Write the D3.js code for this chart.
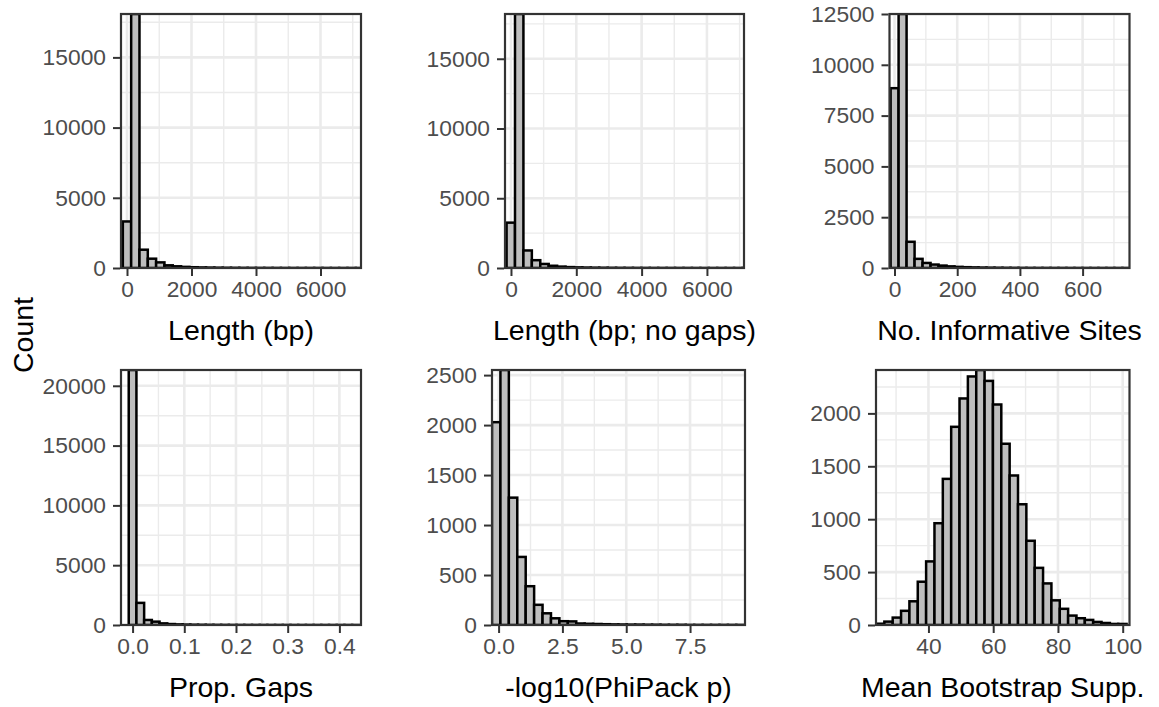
<!DOCTYPE html>
<html>
<head>
<meta charset="utf-8">
<style>
  body { margin: 0; background: #fff; }
  svg { display: block; font-family: "Liberation Sans", Arial, sans-serif; }
  .tick text { fill: #4d4d4d; font-size: 22.8px; font-family: "Liberation Sans", Arial, sans-serif; }
  .tick line { stroke: #333; stroke-width: 2; }
  .ttl { font-size: 28.5px; fill: #000; }
  .grid-major { stroke: #ebebeb; stroke-width: 2.6; }
  .grid-minor { stroke: #ebebeb; stroke-width: 1.4; }
  .bar { fill: #bebebe; stroke: #000; stroke-width: 2.5; }
  .frame { fill: none; stroke: #333; stroke-width: 2.2; }
</style>
</head>
<body>
<svg id="chart" width="1159" height="707"></svg>
<script src="https://cdn.jsdelivr.net/npm/d3@7/dist/d3.min.js"></script>
<script>
// axis titles, one per histogram
var titles = ["Length (bp)", "Length (bp; no gaps)", "No. Informative Sites",
              "Prop. Gaps", "-log10(PhiPack p)", "Mean Bootstrap Supp."];
var yTitle = "Count";

// bin counts (30 bins each)
var lengthCounts   = [3315, 18090, 1303, 663, 400, 190, 120, 80, 55, 40, 30, 22, 17, 13, 10, 8, 6, 5, 4, 3, 3, 2, 2, 2, 1, 1, 1, 1, 1, 1];
var lengthNgCounts = [3251, 18208, 1257, 560, 290, 160, 100, 65, 45, 32, 24, 18, 14, 10, 8, 6, 5, 4, 3, 3, 2, 2, 1, 1, 1, 1, 1, 1, 1, 1];
var infoCounts     = [8849, 12500, 1290, 450, 248, 169, 119, 80, 55, 40, 30, 22, 16, 12, 9, 7, 5, 4, 3, 3, 2, 2, 1, 1, 1, 1, 1, 1, 1, 1];
var gapCounts      = [21320, 1850, 420, 280, 135, 80, 50, 35, 25, 18, 14, 10, 8, 6, 5, 4, 3, 3, 2, 2, 2, 1, 1, 1, 1, 1, 1, 1, 1, 1];
var phiCounts      = [2029, 2551, 1274, 681, 388, 202, 117, 67, 38, 36, 15, 12, 10, 8, 6, 5, 4, 4, 3, 3, 2, 2, 2, 1, 1, 1, 1, 1, 1, 1];
var bootCounts     = [12, 32, 70, 134, 224, 409, 601, 962, 1381, 1873, 2141, 2349, 2410, 2307, 2084, 1713, 1413, 1141, 796, 540, 393, 233, 153, 89, 64, 48, 29, 19, 10, 10];

// left edge and width of the first bin, in data units
var binStarts = [-129, -135, -12.5, -0.00745, -0.258, 23.8];
var binWidths = [258, 258, 25.5, 0.0149, 0.33, 2.58];

// visible x range of each panel
var xLimits = [[-186, 7256], [-183, 7135], [-16, 749.6], [-0.0224, 0.4418], [-0.258, 9.652], [23.8, 102.1]];

// tick values and labels
var xTicks = [[0, 2000, 4000, 6000], [0, 2000, 4000, 6000], [0, 200, 400, 600],
              [0, 0.1, 0.2, 0.3, 0.4], [0, 2.5, 5, 7.5], [40, 60, 80, 100]];
var xLabels = [["0", "2000", "4000", "6000"], ["0", "2000", "4000", "6000"], ["0", "200", "400", "600"],
               ["0.0", "0.1", "0.2", "0.3", "0.4"], ["0.0", "2.5", "5.0", "7.5"], ["40", "60", "80", "100"]];
var yTicks = [[0, 5000, 10000, 15000], [0, 5000, 10000, 15000], [0, 2500, 5000, 7500, 10000, 12500],
              [0, 5000, 10000, 15000, 20000], [0, 500, 1000, 1500, 2000, 2500], [0, 500, 1000, 1500, 2000]];

var allCounts = [lengthCounts, lengthNgCounts, infoCounts, gapCounts, phiCounts, bootCounts];

// panel boxes in pixels
var boxes = [
  {l: 121, r: 361, t: 14, b: 268},
  {l: 505, r: 744, t: 14, b: 268},
  {l: 889.5, r: 1129.5, t: 14, b: 268},
  {l: 121, r: 361, t: 370, b: 625},
  {l: 492, r: 745, t: 370, b: 625},
  {l: 876, r: 1129.5, t: 370, b: 625}
];

var svg = d3.select("#chart");

// midpoints between majors, extended one step past each end, kept inside the limits
function minorTicks(major, lim) {
  var step = major[1] - major[0];
  var ext = [major[0] - step].concat(major, [major[major.length - 1] + step]);
  var out = [];
  for (var i = 0; i < ext.length - 1; i++) {
    var m = (ext[i] + ext[i + 1]) / 2;
    if (m > lim[0] && m < lim[1]) out.push(m);
  }
  return out;
}

boxes.forEach(function(b, i) {
  var counts = allCounts[i];
  var ymax = d3.max(counts);
  var x = d3.scaleLinear().domain(xLimits[i]).range([b.l, b.r]);
  var y = d3.scaleLinear().domain([0, ymax]).range([b.b, b.t]);

  svg.append("clipPath").attr("id", "clip" + i)
    .append("rect")
    .attr("x", b.l).attr("y", b.t)
    .attr("width", b.r - b.l).attr("height", b.b - b.t);

  var g = svg.append("g").attr("clip-path", "url(#clip" + i + ")");

  // grid
  g.selectAll(".mx").data(minorTicks(xTicks[i], xLimits[i])).enter().append("line")
    .attr("class", "grid-minor")
    .attr("x1", x).attr("x2", x).attr("y1", b.t).attr("y2", b.b);
  g.selectAll(".my").data(minorTicks(yTicks[i], [0, ymax])).enter().append("line")
    .attr("class", "grid-minor")
    .attr("y1", y).attr("y2", y).attr("x1", b.l).attr("x2", b.r);
  g.selectAll(".gx").data(xTicks[i]).enter().append("line")
    .attr("class", "grid-major")
    .attr("x1", x).attr("x2", x).attr("y1", b.t).attr("y2", b.b);
  g.selectAll(".gy").data(yTicks[i]).enter().append("line")
    .attr("class", "grid-major")
    .attr("y1", y).attr("y2", y).attr("x1", b.l).attr("x2", b.r);

  // bars
  var bins = counts.map(function(c, k) {
    return {x0: binStarts[i] + k * binWidths[i], x1: binStarts[i] + (k + 1) * binWidths[i], n: c};
  });
  g.selectAll(".bar").data(bins).enter().append("rect")
    .attr("class", "bar")
    .attr("x", function(d) { return x(d.x0); })
    .attr("width", function(d) { return x(d.x1) - x(d.x0); })
    .attr("y", function(d) { return y(d.n); })
    .attr("height", function(d) { return y(0) - y(d.n); });

  svg.append("rect").attr("class", "frame")
    .attr("x", b.l).attr("y", b.t)
    .attr("width", b.r - b.l).attr("height", b.b - b.t);

  // axes
  var ya = svg.append("g").attr("transform", "translate(" + (b.l - 1) + ",0)")
    .call(d3.axisLeft(y).tickValues(yTicks[i]).tickSize(7).tickPadding(7)
      .tickFormat(function(d) { return String(d); }));
  ya.select(".domain").remove();

  var xa = svg.append("g").attr("transform", "translate(0," + (b.b + 1) + ")")
    .call(d3.axisBottom(x).tickValues(xTicks[i]).tickSize(7).tickPadding(4.5)
      .tickFormat(function(d, k) { return xLabels[i][k]; }));
  xa.select(".domain").remove();

  svg.append("text").attr("class", "ttl")
    .attr("x", (b.l + b.r) / 2).attr("y", b.b + 71.7)
    .attr("text-anchor", "middle")
    .text(titles[i]);
});

svg.append("text").attr("class", "ttl")
  .attr("transform", "translate(33,335) rotate(-90)")
  .attr("text-anchor", "middle")
  .text(yTitle);
</script>
</body>
</html>
